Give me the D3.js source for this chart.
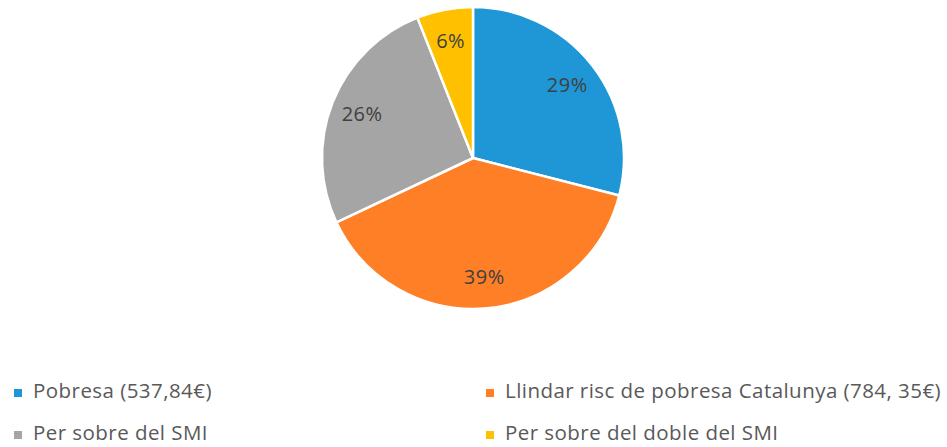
<!DOCTYPE html>
<html><head><meta charset="utf-8">
<script src="https://cdn.jsdelivr.net/npm/d3@7"></script>
<style>body{margin:0;background:#fff;}svg{display:block;}</style>
</head><body><svg id="c" width="947" height="447"></svg>
<script>
const categories = ["Pobresa (537,84€)", "Llindar risc de pobresa Catalunya (784, 35€)", "Per sobre del SMI", "Per sobre del doble del SMI"];
const values = [29, 39, 26, 6];
const colors = ["#1F97D6", "#FF7F27", "#A5A5A5", "#FFC000"];

const svg = d3.select("#c");
const cx = 473, cy = 158, r = 151;
const data = categories.map((c, i) => ({cat: c, v: values[i], col: colors[i]}));
const pie = d3.pie().value(d => d.v).sort(null);
const arcs = pie(data);
const arc = d3.arc().innerRadius(0).outerRadius(r);
const lab = d3.arc().innerRadius(r * 0.79).outerRadius(r * 0.79);
const g = svg.append("g").attr("transform", `translate(${cx},${cy})`);
g.selectAll("path").data(arcs).join("path")
  .attr("d", arc).attr("fill", d => d.data.col)
  .attr("stroke", "#fff").attr("stroke-width", 2.5).attr("stroke-linejoin", "round");
g.selectAll("text").data(arcs).join("text")
  .attr("transform", d => `translate(${lab.centroid(d)})`)
  .attr("text-anchor", "middle").attr("dy", "0.35em")
  .attr("font-family", "Open Sans, sans-serif").attr("font-size", 20)
  .attr("letter-spacing", 0.5)
  .attr("fill", "#404040")
  .text(d => d.data.v + "%");

const legPos = [[14, 391], [486, 391], [14, 433], [486, 433]];
const lg = svg.selectAll("g.leg").data(data).join("g").attr("class", "leg")
  .attr("transform", (d, i) => `translate(${legPos[i][0]},${legPos[i][1]})`);
lg.append("rect").attr("x", 0).attr("y", -2).attr("width", 8).attr("height", 8).attr("fill", d => d.col);
lg.append("text").attr("x", 19).attr("dy", "0.35em")
  .attr("font-family", "Open Sans, sans-serif").attr("font-size", 20.5)
  .attr("letter-spacing", 0.45)
  .attr("fill", "#595959").text(d => d.cat);
</script></body></html>
